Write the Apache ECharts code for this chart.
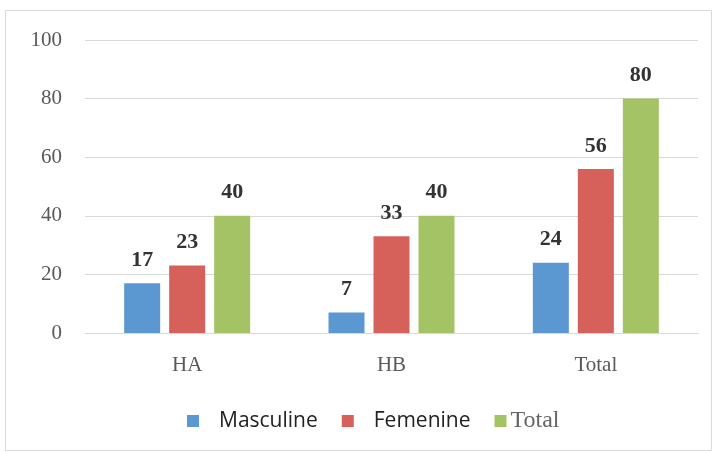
<!DOCTYPE html>
<html>
<head>
<meta charset="utf-8">
<script src="https://cdn.jsdelivr.net/npm/echarts@6/dist/echarts.min.js"></script>
<style>
  html, body { margin: 0; padding: 0; background: #fff; }
  #chart { width: 715px; height: 453px; }
</style>
</head>
<body>
<div id="chart"></div>
<script>
const categories = ['HA', 'HB', 'Total'];
const masculine = [17, 7, 24];
const femenine = [23, 33, 56];
const total = [40, 40, 80];
const yTicks = [0, 20, 40, 60, 80, 100];

const serif = '"Liberation Serif", "Times New Roman", serif';
const sans = '"Open Sans", "Liberation Sans", sans-serif';

const chart = echarts.init(document.getElementById('chart'));

const labelStyle = {
  show: true,
  position: 'top',
  distance: 12,
  fontFamily: serif,
  fontWeight: 'bold',
  fontSize: 22,
  color: '#333',
};

chart.setOption({
  animation: false,
  graphic: [
    {
      type: 'rect',
      shape: { x: 5.5, y: 10.5, width: 706, height: 440 },
      style: { fill: 'none', stroke: '#d9d9d9', lineWidth: 1 },
      silent: true,
    },
  ],
  grid: { left: 85, right: 17, top: 40, bottom: 120 },
  legend: {
    bottom: 15,
    left: 182,
    itemWidth: 12,
    itemHeight: 12,
    itemGap: 24,
    icon: 'rect',
    formatter: function (name) {
      return name === 'Total' ? '{s|' + name + '}' : '{a|' + name + '}';
    },
    textStyle: {
      rich: {
        a: { fontFamily: sans, fontSize: 21, color: '#222', padding: [0, 0, 0, 15] },
        s: { fontFamily: serif, fontSize: 24, color: '#666', padding: [0, 0, 0, -1] },
      },
    },
  },
  xAxis: {
    type: 'category',
    data: categories,
    axisLine: { show: true, lineStyle: { color: '#d9d9d9' } },
    axisTick: { show: false },
    axisLabel: { fontFamily: serif, fontSize: 21, color: '#595959', margin: 22 },
  },
  yAxis: {
    type: 'value',
    min: yTicks[0],
    max: yTicks[yTicks.length - 1],
    interval: 20,
    axisLine: { show: false },
    axisTick: { show: false },
    axisLabel: { fontFamily: serif, fontSize: 21, color: '#595959', margin: 23 },
    splitLine: { lineStyle: { color: '#d9d9d9', width: 1 } },
  },
  series: [
    {
      name: 'Masculine',
      type: 'bar',
      data: masculine,
      barWidth: 36,
      barGap: '25%',
      itemStyle: { color: '#5b97d1' },
      label: labelStyle,
    },
    {
      name: 'Femenine',
      type: 'bar',
      data: femenine,
      barWidth: 36,
      barGap: '25%',
      itemStyle: { color: '#d6605a' },
      label: labelStyle,
    },
    {
      name: 'Total',
      type: 'bar',
      data: total,
      barWidth: 36,
      barGap: '25%',
      itemStyle: { color: '#a3c365' },
      label: labelStyle,
    },
  ],
});
</script>
</body>
</html>
